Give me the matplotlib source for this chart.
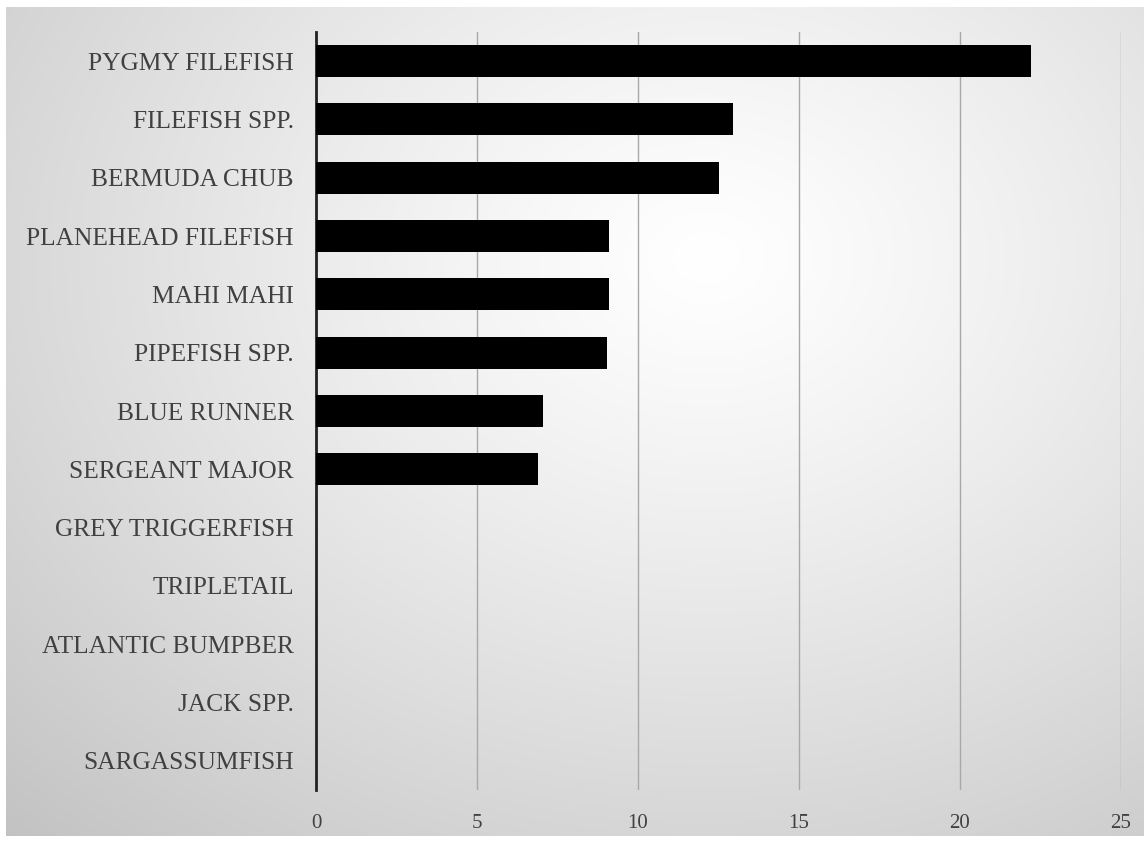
import matplotlib
matplotlib.use('Agg')
import matplotlib.pyplot as plt
import numpy as np

# 数据
species = ['PYGMY FILEFISH', 'FILEFISH SPP.', 'BERMUDA CHUB', 'PLANEHEAD FILEFISH',
           'MAHI MAHI', 'PIPEFISH SPP.', 'BLUE RUNNER', 'SERGEANT MAJOR',
           'GREY TRIGGERFISH', 'TRIPLETAIL', 'ATLANTIC BUMPBER', 'JACK SPP.',
           'SARGASSUMFISH']
values = [22.2, 12.95, 12.5, 9.1, 9.1, 9.05, 7.05, 6.9, 0, 0, 0, 0, 0]
xticks = [0, 5, 10, 15, 20, 25]

W, H = 1147, 843
fig = plt.figure(figsize=(W / 100, H / 100), dpi=100, facecolor='white')

# 背景渐变（径向）
bg = fig.add_axes([6 / W, 1 - 836 / H, (1144 - 6) / W, (836 - 7) / H])
yy, xx = np.mgrid[0:829, 0:1138]
r = np.sqrt(((xx - 700) / 950.0) ** 2 + ((yy - 250) / 750.0) ** 2)
img = 1.0 - 0.22 * np.clip(r, 0, 1.2) ** 1.2
bg.imshow(np.dstack([img] * 3), aspect='auto', extent=[0, 1, 0, 1])
bg.set_axis_off()

# 主图
ax = fig.add_axes([316 / W, 1 - 790 / H, (1121 - 316) / W, (790 - 32) / H])
ax.patch.set_alpha(0)
y = np.arange(len(species))
ax.barh(y, values, height=0.55, color='black', zorder=3)
ax.set_ylim(len(species) - 0.5, -0.5)
ax.set_xlim(0, 25)
ax.set_xticks(xticks)
ax.set_yticks(y)
ax.set_yticklabels(species, fontsize=18.3, family='Liberation Serif', color='#404040')
ax.set_xticklabels([str(t) for t in xticks], fontsize=15, family='Liberation Serif', color='#404040')
ax.tick_params(axis='y', length=0, pad=16)
ax.tick_params(axis='x', length=0, pad=17)
ax.grid(axis='x', color='#a8a8a8', linewidth=1, zorder=0)
for s in ['top', 'right', 'bottom']:
    ax.spines[s].set_visible(False)
ax.spines['left'].set_color('#222222')
ax.spines['left'].set_linewidth(2)

fig.savefig('out.png', dpi=100, facecolor='white')
